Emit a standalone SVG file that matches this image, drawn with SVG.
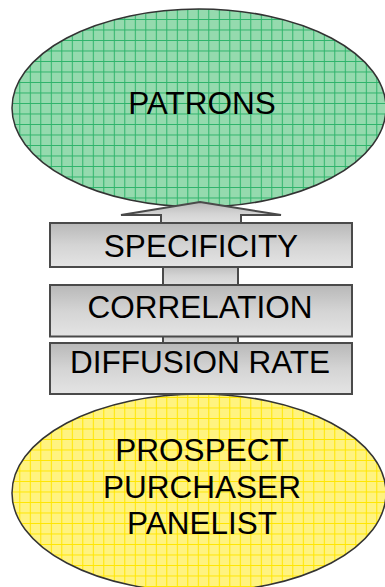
<svg xmlns="http://www.w3.org/2000/svg" width="385" height="587" viewBox="0 0 385 587">
<style>
.lbl{font-family:"Liberation Sans",Arial,sans-serif;font-size:31.5px;fill:#000;text-anchor:middle}
.box{fill:url(#gray);stroke:#4a4a4a;stroke-width:2}
.ell{stroke:#333;stroke-width:1.5}
</style>
<defs>
<linearGradient id="gray" x1="0" y1="0" x2="0" y2="1">
<stop offset="0" stop-color="#b8b8b8"/>
<stop offset="0.5" stop-color="#d4d4d4"/>
<stop offset="1" stop-color="#e4e4e4"/>
</linearGradient>
<pattern id="gridG" patternUnits="userSpaceOnUse" x="8.8" y="8.5" width="10.5" height="10.5">
<rect width="10.5" height="10.5" fill="#95daae"/>
<path d="M0 0.5H10.5M0.5 0V10.5" stroke="#2eb36a" stroke-width="1"/>
</pattern>
<pattern id="gridY" patternUnits="userSpaceOnUse" x="8.8" y="8.5" width="10.5" height="10.5">
<rect width="10.5" height="10.5" fill="#fff380"/>
<path d="M0 0.5H10.5M0.5 0V10.5" stroke="#ffe600" stroke-width="1"/>
</pattern>
</defs>
<g id="patrons">
<ellipse class="ell" cx="199" cy="108" rx="187" ry="99" fill="url(#gridG)"/>
<text class="lbl" x="202" y="114">PATRONS</text>
</g>
<g id="prospect">
<ellipse class="ell" cx="199" cy="493" rx="187" ry="99" fill="url(#gridY)"/>
<text class="lbl" x="202" y="461">PROSPECT</text>
<text class="lbl" x="202" y="497.7">PURCHASER</text>
<text class="lbl" x="202" y="534.3">PANELIST</text>
</g>
<g id="connectors">
<polygon class="box" points="200,202 281,215 241,215 241,226 161,226 161,215 121,215"/>
<rect class="box" x="163" y="264" width="75" height="24"/>
<rect class="box" x="163" y="334" width="75" height="12"/>
</g>
<g id="specificity">
<rect class="box" x="50" y="223" width="302" height="44"/>
<text class="lbl" x="201" y="256.7">SPECIFICITY</text>
</g>
<g id="correlation">
<rect class="box" x="50" y="285" width="302" height="51.5"/>
<text class="lbl" x="200" y="318.3">CORRELATION</text>
</g>
<g id="diffusion">
<rect class="box" x="50" y="343" width="302" height="51"/>
<text class="lbl" x="200" y="372.6">DIFFUSION RATE</text>
</g>
</svg>
